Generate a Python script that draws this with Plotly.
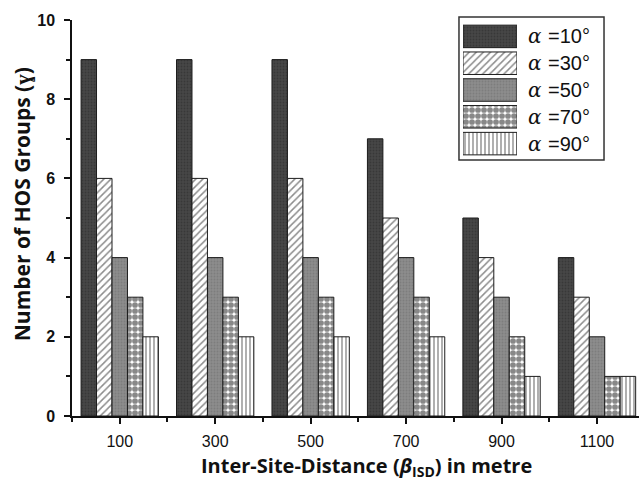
import plotly.graph_objects as go

# Inter-site distance groups (metres) and number of HOS groups per angle
isd = ["100", "300", "500", "700", "900", "1100"]
alpha_labels = ["10°", "30°", "50°", "70°", "90°"]
groups_a10 = [9, 9, 9, 7, 5, 4]
groups_a30 = [6, 6, 6, 5, 4, 3]
groups_a50 = [4, 4, 4, 4, 3, 2]
groups_a70 = [3, 3, 3, 3, 2, 1]
groups_a90 = [2, 2, 2, 2, 1, 1]
series = [groups_a10, groups_a30, groups_a50, groups_a70, groups_a90]

# fill style per angle: (background, pattern shape, pattern colour, size, solidity)
styles = [
    dict(bg="#474747", shape=".", fg="#2a2a2a", size=3, solidity=0.35),
    dict(bg="#ffffff", shape="/", fg="#1a1a1a", size=5, solidity=0.3),
    dict(bg="#8c8c8c", shape=".", fg="#6e6e6e", size=3, solidity=0.3),
    dict(bg="#ffffff", shape=".", fg="#111111", size=6, solidity=0.72),
    dict(bg="#ffffff", shape="|", fg="#1a1a1a", size=4, solidity=0.35),
]

x_pos = list(range(len(isd)))

fig = go.Figure()

for vals, st in zip(series, styles):
    fig.add_trace(go.Bar(
        x=x_pos, y=vals,
        marker=dict(
            color=st["bg"],
            line=dict(color="#1c1c1c", width=1),
            pattern=dict(shape=st["shape"], fgcolor=st["fg"], bgcolor=st["bg"],
                         size=st["size"], solidity=st["solidity"], fillmode="overlay"),
        ),
        showlegend=False,
        xaxis="x", yaxis="y",
    ))

# legend swatches drawn on a small inset axis so they can be large
for i, st in enumerate(styles):
    fig.add_trace(go.Bar(
        x=[1], y=[i], orientation="h", width=0.84, offset=-0.42,
        marker=dict(
            color=st["bg"],
            line=dict(color="#1c1c1c", width=1),
            pattern=dict(shape=st["shape"], fgcolor=st["fg"], bgcolor=st["bg"],
                         size=st["size"], solidity=st["solidity"], fillmode="overlay"),
        ),
        showlegend=False, hoverinfo="skip",
        xaxis="x2", yaxis="y2",
    ))

annotations = []
for i, lab in enumerate(alpha_labels):
    # italic serif alpha followed by the angle value
    annotations.append(dict(
        xref="paper", yref="y2", x=0.803, y=i, xanchor="left", yanchor="middle",
        showarrow=False, text="<i>α</i>", borderpad=0,
        font=dict(family="DejaVu Serif", size=20, color="#111111"),
    ))
    annotations.append(dict(
        xref="paper", yref="y2", x=0.8385, y=i, xanchor="left", yanchor="middle",
        showarrow=False, text="=" + lab, borderpad=0,
        font=dict(family="Liberation Sans", size=20, color="#111111"),
    ))

annotations.append(dict(
    xref="paper", yref="paper", x=0.52, y=-0.1263, xanchor="center", yanchor="middle",
    showarrow=False, borderpad=0,
    text="Inter-Site-Distance (<i>β</i><sub>ISD</sub>) in metre",
    font=dict(family="Open Sans", size=20, color="#111111", weight=700),
))
annotations.append(dict(
    xref="paper", yref="paper", x=-0.088, y=0.535, xanchor="center", yanchor="middle",
    showarrow=False, textangle=-90,
    text="Number of HOS Groups (ɣ)",
    font=dict(family="Open Sans", size=21, color="#111111", weight=700),
))

fig.update_layout(
    width=639, height=480,
    margin=dict(l=72, r=0, t=20, b=64),
    paper_bgcolor="white", plot_bgcolor="white",
    barmode="group", bargap=0.19, bargroupgap=0,
    xaxis=dict(
        range=[-0.5, 5.44], tickmode="array", tickvals=x_pos, ticktext=isd,
        showline=True, linecolor="#111111", linewidth=1.5,
        ticks="outside", ticklen=6, tickwidth=1.5, tickcolor="#111111",
        minor=dict(ticks="outside", tick0=-0.5, dtick=1, ticklen=4,
                   tickwidth=1.5, tickcolor="#111111"),
        showgrid=False, zeroline=False,
        tickfont=dict(family="Liberation Sans", size=16, color="#111111"),
        ticklabelstandoff=4,
    ),
    yaxis=dict(
        range=[0, 10], dtick=2, tick0=0,
        showline=True, linecolor="#111111", linewidth=1.5,
        ticks="outside", ticklen=6, tickwidth=1.5, tickcolor="#111111",
        minor=dict(ticks="outside", dtick=1, ticklen=4, tickwidth=1.5, tickcolor="#111111"),
        showgrid=False, zeroline=False,
        tickfont=dict(family="Liberation Sans", size=16, color="#111111", weight=700),
        ticklabelstandoff=6,
    ),
    xaxis2=dict(domain=[0.6896, 0.7848], range=[0, 1], visible=False, anchor="y2"),
    yaxis2=dict(domain=[0.654, 0.9924], range=[4.5, -0.5], visible=False, anchor="x2"),
    shapes=[dict(type="rect", xref="paper", yref="paper",
                 x0=0.6825, x1=0.9383, y0=0.6465, y1=1.0076,
                 line=dict(color="#333333", width=1.5), fillcolor="rgba(0,0,0,0)",
                 layer="below")],
    annotations=annotations,
)

fig.write_html("out.html")
